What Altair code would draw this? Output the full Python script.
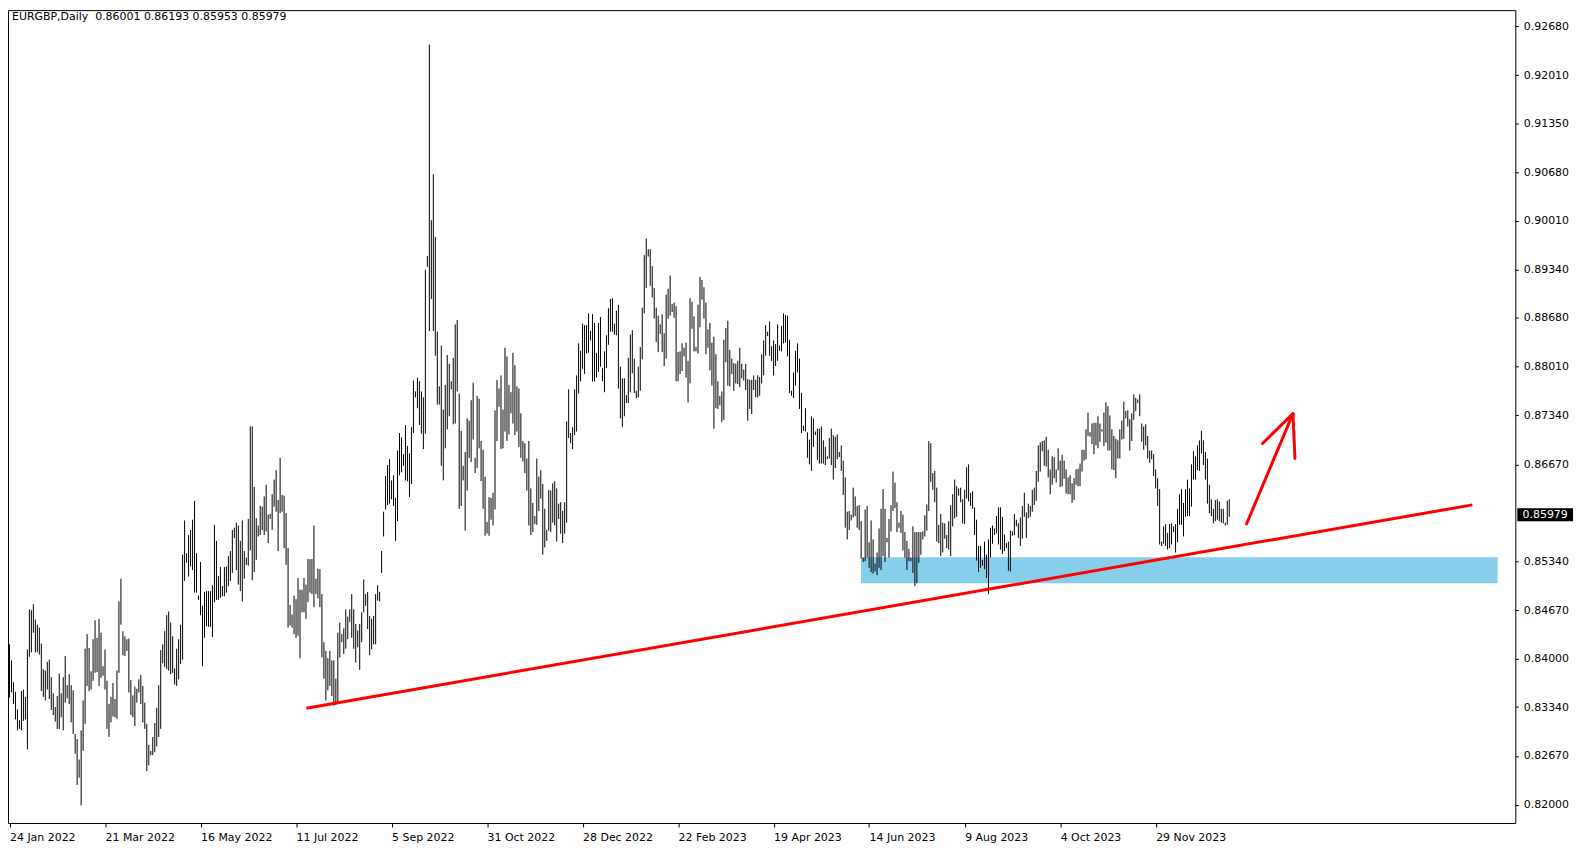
import json
import altair as alt
import pandas as pd

# ---------------- data (EURGBP daily bars) ----------------
DATE_LABELS = ["24 Jan 2022", "21 Mar 2022", "16 May 2022", "11 Jul 2022", "5 Sep 2022",
               "31 Oct 2022", "28 Dec 2022", "22 Feb 2023", "19 Apr 2023", "14 Jun 2023",
               "9 Aug 2023", "4 Oct 2023", "29 Nov 2023"]
BARS_PER_LABEL = 48

PRICE_TICKS = [0.92680, 0.92010, 0.91350, 0.90680, 0.90010, 0.89340, 0.88680, 0.88010,
               0.87340, 0.86670, 0.85340, 0.84670, 0.84000, 0.83340, 0.82670, 0.82000]

# daily highs / lows, in units of 0.0001
HIGHS = [
    8420, 8398, 8368, 8355, 8331, 8316, 8356, 8358, 8348, 8413,
    8468, 8467, 8475, 8454, 8447, 8443, 8421, 8386, 8384, 8396,
    8399, 8375, 8353, 8334, 8349, 8380, 8353, 8375, 8404, 8364,
    8379, 8364, 8357, 8297, 8290, 8262, 8302, 8343, 8414, 8434,
    8415, 8383, 8427, 8453, 8429, 8455, 8436, 8390, 8413, 8370,
    8338, 8348, 8367, 8345, 8384, 8479, 8510, 8438, 8431, 8427,
    8428, 8371, 8350, 8362, 8359, 8372, 8378, 8363, 8340, 8311,
    8282, 8274, 8293, 8312, 8333, 8364, 8412, 8420, 8438, 8460,
    8465, 8450, 8431, 8387, 8414, 8427, 8447,
    8543, 8590, 8545, 8570, 8577, 8591, 8617, 8545, 8487, 8533,
    8473, 8492, 8493, 8493, 8493, 8501, 8584, 8562, 8514, 8526,
    8500, 8526, 8527, 8541, 8548, 8577, 8580, 8587, 8583, 8562,
    8590, 8548, 8539, 8592, 8719, 8719, 8636, 8593, 8583, 8610,
    8609, 8623, 8639, 8598, 8599, 8626, 8646, 8659, 8618, 8676,
    8625, 8624, 8600, 8552, 8474, 8461, 8487, 8482, 8511, 8495,
    8495, 8511, 8502, 8537, 8537, 8537, 8583, 8510, 8524, 8523,
    8489, 8423, 8411, 8401, 8411, 8398, 8398, 8373, 8436, 8450,
    8434, 8442, 8468, 8458, 8468, 8489, 8468, 8448, 8439, 8448,
    8464, 8509, 8489, 8492, 8459, 8455, 8459, 8489, 8501, 8492,
    8548, 8602, 8651, 8666, 8674, 8645,
    8652, 8621, 8686, 8710, 8704, 8681, 8721, 8692, 8682, 8718,
    8782, 8767, 8786, 8781, 8767, 8759, 8934, 8953, 9243, 9002,
    9065, 8979, 8849, 8774, 8830, 8742, 8776, 8817, 8805, 8781,
    8813, 8859, 8865, 8764, 8713, 8665, 8684, 8730, 8727, 8755,
    8779, 8676, 8761, 8757, 8699, 8687, 8650, 8588, 8622, 8621,
    8628, 8741, 8783, 8771, 8789, 8742, 8827, 8815, 8776, 8766,
    8820, 8803, 8774, 8771, 8737, 8699, 8696, 8675, 8699, 8634,
    8614, 8596, 8675, 8650, 8659, 8640, 8606, 8577, 8632, 8631,
    8641, 8644, 8634, 8613, 8615, 8603, 8615, 8726, 8770, 8710,
    8718, 8770, 8789, 8833, 8823, 8860, 8858,
    8858, 8874, 8850, 8873, 8861, 8820, 8861, 8869, 8799, 8822,
    8844, 8881, 8894, 8895, 8860, 8878, 8886, 8801, 8785, 8785,
    8762, 8813, 8845, 8851, 8812,
    8768, 8801, 8828, 8882, 8954, 8977, 8962, 8962, 8939, 8909,
    8882, 8871, 8859, 8873, 8847, 8900, 8908, 8926, 8887, 8889,
    8884, 8821, 8822, 8833, 8827, 8834, 8809, 8895, 8890, 8870,
    8828, 8886, 8924, 8920, 8910, 8889, 8852, 8861, 8834, 8842,
    8818, 8781, 8761, 8767, 8838, 8854, 8864, 8824, 8812, 8806,
    8805, 8809, 8827, 8805, 8797, 8805, 8784, 8783, 8783, 8789,
    8783, 8789, 8787, 8818, 8837, 8858, 8849, 8863, 8829, 8837,
    8832, 8859, 8830, 8857, 8874, 8872, 8871, 8838, 8768, 8793,
    8823, 8833, 8812, 8765, 8720, 8744, 8711, 8701, 8733, 8730,
    8712, 8716, 8716, 8719, 8700, 8691, 8678, 8703, 8716, 8707,
    8705, 8708, 8684, 8693,
    8672, 8649, 8602, 8603, 8598, 8635, 8623, 8610, 8611, 8589,
    8539, 8605, 8610, 8560, 8590, 8564, 8531, 8546, 8579, 8606,
    8633, 8606, 8566, 8592, 8611, 8657, 8642, 8615, 8587, 8603,
    8598, 8574, 8562, 8551, 8539, 8582, 8574, 8574, 8574, 8574,
    8575, 8597, 8612, 8699, 8696, 8655, 8658, 8635, 8584, 8599,
    8587, 8586, 8570, 8589, 8611, 8626, 8646, 8637, 8634, 8635,
    8619, 8632, 8663, 8667, 8628, 8630, 8608, 8591, 8555, 8555,
    8536, 8561, 8543, 8564, 8580, 8583, 8579, 8596, 8608, 8608,
    8595, 8571, 8559, 8561, 8576, 8575, 8599, 8591, 8586, 8594,
    8610, 8628, 8601, 8613, 8610, 8632, 8635, 8658, 8693, 8697,
    8699,
    8700, 8705, 8687, 8660, 8678, 8677, 8660, 8689, 8672, 8680,
    8672, 8660, 8649, 8652, 8641, 8648, 8660, 8661, 8668, 8687,
    8687, 8715, 8738, 8711, 8723, 8724, 8724, 8733, 8723, 8715,
    8738, 8752, 8747, 8734, 8715, 8706, 8702, 8700, 8715, 8727,
    8753, 8740, 8741, 8729, 8737, 8763, 8758, 8756, 8763, 8723,
    8719, 8722, 8706, 8686, 8686, 8681, 8660, 8648, 8633, 8561,
    8582, 8585, 8573, 8585, 8586, 8582, 8585, 8606, 8626, 8633,
    8614, 8633, 8646, 8634, 8667, 8685, 8678, 8693, 8700, 8713,
    8700, 8684, 8675, 8639, 8619, 8606, 8618, 8619, 8616, 8606,
    8606, 8587, 8617, 8619,
]
LOWS = [
    8347, 8354, 8338, 8317, 8302, 8304, 8302, 8315, 8317, 8276,
    8403, 8409, 8436, 8409, 8409, 8406, 8356, 8348, 8343, 8358,
    8345, 8330, 8323, 8314, 8304, 8304, 8320, 8302, 8340, 8346,
    8338, 8313, 8297, 8270, 8227, 8237, 8199, 8274, 8311, 8363,
    8356, 8358, 8370, 8381, 8382, 8363, 8374, 8377, 8358, 8304,
    8293, 8313, 8321, 8320, 8318, 8381, 8447, 8405, 8404, 8411,
    8354, 8323, 8320, 8308, 8340, 8354, 8338, 8313, 8304, 8246,
    8254, 8268, 8268, 8272, 8280, 8293, 8304, 8394, 8389, 8386,
    8384, 8379, 8381, 8365, 8363, 8372, 8393,
    8399, 8507, 8532, 8513, 8527, 8522, 8491, 8491, 8481, 8460,
    8390, 8429, 8445, 8444, 8444, 8430, 8478, 8481, 8481, 8484,
    8486, 8486, 8491, 8500, 8507, 8518, 8566, 8522, 8502, 8493,
    8479, 8510, 8529, 8528, 8549, 8508, 8519, 8536, 8568, 8570,
    8577, 8570, 8575, 8559, 8592, 8577, 8609, 8602, 8548, 8600,
    8602, 8552, 8529, 8443, 8446, 8443, 8434, 8429, 8432, 8401,
    8464, 8464, 8455, 8478, 8491, 8489, 8471, 8489, 8483, 8471,
    8402, 8373, 8343, 8357, 8363, 8349, 8336, 8337, 8338, 8402,
    8423, 8407, 8414, 8427, 8451, 8429, 8414, 8395, 8416, 8385,
    8423, 8464, 8473, 8441, 8405, 8413, 8420, 8420, 8480, 8479,
    8518, 8568, 8605, 8611, 8613, 8619,
    8610, 8562, 8589, 8652, 8656, 8665, 8645, 8644, 8622, 8640,
    8710, 8759, 8744, 8721, 8709, 8688, 8709, 8938, 8850, 8894,
    8850, 8816, 8749, 8749, 8665, 8645, 8689, 8715, 8733, 8770,
    8722, 8723, 8767, 8606, 8610, 8645, 8576, 8631, 8676, 8670,
    8701, 8655, 8662, 8689, 8644, 8606, 8569, 8572, 8569, 8591,
    8583, 8605, 8699, 8746, 8688, 8689, 8712, 8699, 8708, 8737,
    8723, 8707, 8712, 8691, 8676, 8671, 8655, 8631, 8583, 8570,
    8574, 8585, 8584, 8603, 8620, 8543, 8553, 8562, 8576, 8574,
    8587, 8583, 8561, 8592, 8572, 8559, 8572, 8587, 8703, 8696,
    8688, 8707, 8712, 8764, 8781, 8798, 8791,
    8819, 8820, 8837, 8781, 8781, 8786, 8794, 8801, 8781, 8766,
    8799, 8831, 8849, 8849, 8845, 8844, 8771, 8730, 8718, 8733,
    8751, 8751, 8766, 8792, 8765,
    8758, 8759, 8768, 8811, 8874, 8909, 8952, 8912, 8896, 8867,
    8835, 8821, 8846, 8821, 8802, 8812, 8867, 8871, 8876, 8868,
    8781, 8781, 8791, 8795, 8815, 8786, 8752, 8778, 8853, 8822,
    8822, 8819, 8855, 8893, 8867, 8818, 8827, 8796, 8775, 8716,
    8744, 8743, 8748, 8725, 8728, 8807, 8775, 8774, 8791, 8768,
    8778, 8777, 8773, 8785, 8782, 8769, 8727, 8743, 8736, 8769,
    8759, 8759, 8761, 8778, 8789, 8816, 8843, 8816, 8809, 8789,
    8802, 8809, 8823, 8822, 8833, 8834, 8815, 8765, 8761, 8758,
    8775, 8793, 8743, 8710, 8713, 8712, 8676, 8667, 8658, 8691,
    8707, 8673, 8668, 8668, 8668, 8666, 8674, 8675, 8666, 8646,
    8662, 8674, 8677, 8658,
    8625, 8580, 8564, 8577, 8590, 8594, 8596, 8580, 8577, 8538,
    8533, 8534, 8539, 8525, 8519, 8517, 8520, 8515, 8525, 8522,
    8541, 8533, 8560, 8539, 8575, 8603, 8607, 8574, 8580, 8573,
    8549, 8539, 8522, 8534, 8534, 8518, 8500, 8504, 8532, 8543,
    8564, 8568, 8576, 8603, 8643, 8632, 8615, 8561, 8559, 8541,
    8546, 8565, 8552, 8550, 8541, 8582, 8593, 8595, 8624, 8615,
    8586, 8585, 8620, 8616, 8610, 8606, 8570, 8535, 8519, 8525,
    8528, 8523, 8511, 8489, 8539, 8558, 8570, 8572, 8557, 8550,
    8544, 8548, 8552, 8521, 8520, 8569, 8570, 8582, 8566, 8555,
    8565, 8595, 8566, 8593, 8595, 8602, 8611, 8617, 8643, 8657,
    8685,
    8665, 8664, 8649, 8626, 8639, 8648, 8642, 8659, 8636, 8637,
    8647, 8627, 8626, 8626, 8614, 8618, 8639, 8637, 8637, 8657,
    8672, 8674, 8706, 8705, 8695, 8681, 8693, 8689, 8698, 8712,
    8692, 8697, 8686, 8686, 8660, 8659, 8648, 8675, 8675, 8701,
    8702, 8730, 8719, 8686, 8699, 8728, 8740, 8751, 8733, 8698,
    8687, 8693, 8675, 8669, 8674, 8651, 8634, 8610, 8557, 8555,
    8558, 8555, 8550, 8552, 8557, 8574, 8546, 8560, 8584, 8584,
    8568, 8595, 8596, 8596, 8609, 8646, 8646, 8659, 8658, 8682,
    8666, 8646, 8613, 8600, 8596, 8586, 8589, 8591, 8589, 8587,
    8586, 8583, 8584, 8595,
]

HEADER = "EURGBP,Daily\u00a0\u00a00.86001 0.86193 0.85953 0.85979"
LAST_CLOSE = 0.85979

# drawn objects, in (bar index, price)
TREND_BAR = [149.2, 735.2]
TREND_PRICE = [0.83324, 0.86114]
ZONE_BAR = [427.9, 747.9]
ZONE_PRICE = [0.85039, 0.85394]
ARROW_BAR_FROM = [621.7, 629.7, 645.0]
ARROW_PRICE_FROM = [0.85854, 0.86956, 0.87365]
ARROW_BAR_TO = [645.0, 645.0, 646.0]
ARROW_PRICE_TO = [0.87365, 0.87365, 0.86751]

# ---------------- tables ----------------
bars = pd.DataFrame({
    "i": list(range(len(HIGHS))),
    "high": [h / 10000 for h in HIGHS],
    "low": [l / 10000 for l in LOWS],
})
trend = pd.DataFrame({"i": [TREND_BAR[0]], "i2": [TREND_BAR[1]],
                      "low": [TREND_PRICE[0]], "high": [TREND_PRICE[1]]})
zone = pd.DataFrame({"i": [ZONE_BAR[0]], "i2": [ZONE_BAR[1]],
                     "low": [ZONE_PRICE[0]], "high": [ZONE_PRICE[1]]})
arrow = pd.DataFrame({"i": ARROW_BAR_FROM, "i2": ARROW_BAR_TO,
                      "low": ARROW_PRICE_FROM, "high": ARROW_PRICE_TO})
last = pd.DataFrame({"low": [LAST_CLOSE], "t": [f"{LAST_CLOSE:.5f}"]})
header = pd.DataFrame({"t": [HEADER]})

W, H = 1515, 817
xs = alt.Scale(domain=[-0.75, 756.75], nice=False, zero=False)
ys = alt.Scale(domain=[0.81749, 0.92902], nice=False, zero=False)

label_expr = json.dumps(DATE_LABELS) + f"[round(datum.value / {BARS_PER_LABEL})]"

x_axis = alt.Axis(values=[k * BARS_PER_LABEL for k in range(len(DATE_LABELS))],
                  labelExpr=label_expr, title=None, orient="bottom", grid=False,
                  domain=False, ticks=True, tickSize=4, tickColor="black",
                  labelAlign="left", labelBaseline="alphabetic", labelPadding=14,
                  labelFont="DejaVu Sans", labelFontSize=11, labelColor="black",
                  labelOverlap=False, labelFlush=False, labelBound=False)
y_axis = alt.Axis(values=PRICE_TICKS, format=".5f", title=None, orient="right",
                  grid=False, domain=False, ticks=True, tickSize=3, tickColor="black",
                  labelAlign="left", labelBaseline="middle", labelPadding=5,
                  labelFont="DejaVu Sans", labelFontSize=11, labelColor="black",
                  labelOverlap=False, labelFlush=False, labelBound=False)

X = alt.X("i:Q", scale=xs, axis=x_axis)
Y = alt.Y("low:Q", scale=ys, axis=y_axis)

zone_layer = alt.Chart(zone).mark_rect(color="#87CEEB", opacity=1).encode(
    x=X, x2="i2:Q", y=Y, y2="high:Q")

bar_layer = alt.Chart(bars).mark_rule(color="black", strokeWidth=1).encode(
    x=X, y=Y, y2="high:Q")

trend_layer = alt.Chart(trend).mark_rule(color="#FF0000", strokeWidth=3).encode(
    x=X, x2="i2:Q", y=Y, y2="high:Q")

arrow_layer = alt.Chart(arrow).mark_rule(color="#FF0000", strokeWidth=3, strokeCap="round").encode(
    x=X, x2="i2:Q", y=Y, y2="high:Q")

BOX = "M-1,-0.235L1,-0.235L1,0.235L-1,0.235Z"
box_layer = alt.Chart(last).mark_point(shape=BOX, size=3136, filled=True, color="black",
                                       opacity=1, strokeWidth=0).encode(
    x=alt.value(W + 30), y=Y)
box_text = alt.Chart(last).mark_text(color="white", font="DejaVu Sans", fontSize=11,
                                     align="center", baseline="middle").encode(
    x=alt.value(W + 30), y=Y, text="t:N")

header_layer = alt.Chart(header).mark_text(color="black", font="DejaVu Sans", fontSize=11,
                                           align="left", baseline="alphabetic").encode(
    x=alt.value(4), y=alt.value(9.5), text="t:N")

chart = alt.layer(zone_layer, bar_layer, trend_layer, arrow_layer, box_layer, box_text,
                  header_layer).properties(
    width=W, height=H,
    autosize=alt.AutoSizeParams(type="none"),
    padding={"left": 0, "top": 0, "right": 64, "bottom": 25},
    background="white",
).configure_view(stroke="black", strokeWidth=1)

chart.save("out.html", embed_options={"renderer": "svg", "actions": False})
